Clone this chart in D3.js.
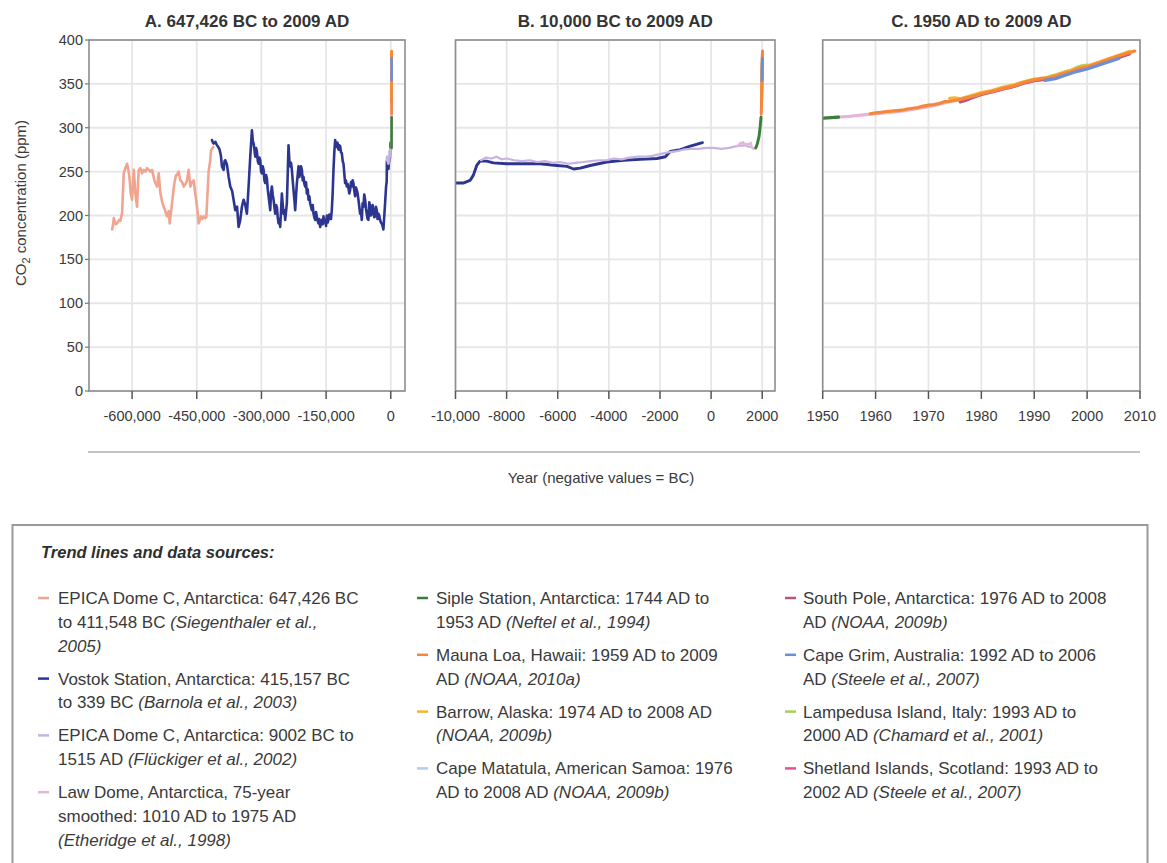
<!DOCTYPE html>
<html>
<head>
<meta charset="utf-8">
<script src="https://cdn.jsdelivr.net/npm/d3@7"></script>
<style>
  body { margin: 0; background: #fff; }
  svg { display: block; font-family: "Liberation Sans", Arial, sans-serif; }
</style>
</head>
<body>
<svg width="1167" height="863"></svg>
<script>
// ---- data (year, ppm) ----
const epicaOld = [
  [-646400,184],[-644000,190],[-642500,197],[-638000,190],[-634800,191],[-630000,195],[-627100,194],
  [-623200,203],[-619400,248],[-615000,255],[-611700,259],[-608000,250],[-605500,240],[-603000,225],
  [-600100,218],[-598000,235],[-596200,252],[-592400,225],[-588500,210],[-586000,240],[-584600,252],
  [-580800,254],[-577000,248],[-573000,252],[-569000,250],[-565300,254],[-561000,252],[-557600,250],
  [-553700,252],[-548300,240],[-545000,236],[-542200,233],[-538300,248],[-534400,225],[-530000,215],
  [-526700,210],[-523000,205],[-519000,199],[-515000,205],[-512800,191],[-507400,214],[-502000,237],
  [-498000,246],[-495800,246],[-492000,250],[-488100,240],[-484000,238],[-480400,233],[-476000,236],
  [-472700,240],[-468800,252],[-465000,233],[-461000,238],[-457200,240],[-453400,225],[-449500,210],
  [-445600,191],[-442000,196],[-440200,199],[-437000,196],[-434100,199],[-430000,197],[-427900,198],
  [-422500,250],[-419000,262],[-417100,274],[-411500,278]
];

const vostok = [
  [-414750,286],[-412500,283],[-410900,282],[-407000,284],[-403200,280],[-400000,278],[-397000,275],
  [-394000,268],[-391600,256],[-387700,252],[-385500,262],[-383900,263],[-380000,258],[-376100,244],
  [-372300,233],[-368000,228],[-364600,218],[-360700,206],[-356500,210],[-353000,187],[-349100,195],
  [-345300,210],[-341400,218],[-337500,212],[-333700,202],[-329800,233],[-325950,267],[-322100,297],
  [-320000,285],[-318200,282],[-316300,275],[-314400,267],[-312400,277],[-310500,273],[-308500,262],
  [-306600,259],[-304700,266],[-302800,263],[-300800,250],[-298900,248],[-297000,256],[-295000,252],
  [-293100,240],[-291200,237],[-289200,246],[-287300,242],[-285400,230],[-283500,222],[-281500,214],
  [-279600,206],[-277700,226],[-275800,233],[-273800,224],[-271900,218],[-270000,210],[-268000,202],
  [-266000,212],[-264000,209],[-262200,198],[-260300,191],[-258400,196],[-256500,187],[-254500,206],
  [-252600,225],[-250600,212],[-248700,202],[-246800,206],[-244900,195],[-243000,204],[-241000,214],
  [-239000,248],[-237200,280],[-235200,262],[-233300,256],[-231300,260],[-229400,252],[-227500,240],
  [-225600,229],[-223600,218],[-221700,206],[-219800,222],[-217800,237],[-215900,246],[-214000,256],
  [-212000,244],[-210100,248],[-208200,256],[-206200,252],[-204300,240],[-202400,244],[-200400,236],
  [-198500,233],[-196600,238],[-194700,225],[-192700,230],[-190800,218],[-188900,222],[-187000,214],
  [-185000,210],[-183100,206],[-181100,212],[-179200,202],[-177300,198],[-175400,195],[-173400,204],
  [-171500,199],[-169600,194],[-167700,191],[-165700,196],[-163800,187],[-161800,192],[-159900,195],
  [-158000,190],[-156100,199],[-154100,192],[-152200,195],[-150200,188],[-148300,200],[-146400,192],
  [-144500,195],[-142500,201],[-140600,199],[-138700,196],[-136800,206],[-134800,225],[-132900,252],
  [-131000,272],[-129000,286],[-127000,280],[-125200,278],[-123500,283],[-121300,275],[-119500,280],
  [-117400,279],[-115500,272],[-113600,271],[-111500,262],[-109700,259],[-107800,248],[-105900,237],
  [-104000,240],[-102000,233],[-100000,236],[-98100,231],[-96200,225],[-94300,229],[-92300,238],
  [-90400,233],[-88500,240],[-86600,237],[-84600,228],[-82700,222],[-80800,232],[-78800,229],
  [-76900,225],[-75000,218],[-73000,210],[-71100,202],[-69200,206],[-67300,195],[-65300,214],
  [-63400,210],[-61500,224],[-59500,218],[-57600,208],[-55700,202],[-53700,196],[-51800,195],
  [-49900,215],[-48000,210],[-46000,200],[-44100,202],[-42200,212],[-40200,206],[-38300,198],
  [-36400,199],[-34400,210],[-32500,206],[-30600,196],[-28600,202],[-26700,200],[-24800,195],
  [-22800,192],[-20900,191],[-19000,188],[-17100,184],[-13200,214],[-11000,232],
  [-10000,237],[-9700,237],[-9430,240],[-9300,246],[-9170,257],[-9040,262],[-8780,262],[-8520,260],
  [-8000,259],[-7340,259],[-6690,259],[-6030,257],[-5640,256],[-5380,253],[-5120,254],[-4730,257],
  [-4080,261],[-3420,263],[-2770,264],[-2120,265],[-1790,267],[-1600,273],[-1200,275],[-810,279],
  [-339,283]
];

const epicaHolocene = [
  [-9002,263],[-8800,266],[-8600,265],[-8400,267],[-8200,264],[-8000,265],[-7700,263],[-7400,262],
  [-7100,263],[-6800,261],[-6500,262],[-6200,260],[-5900,261],[-5600,259],[-5300,260],[-5000,261],
  [-4700,262],[-4400,263],[-4100,263],[-3800,265],[-3500,264],[-3200,266],[-2900,267],[-2600,267],
  [-2300,268],[-2000,270],[-1700,272],[-1400,273],[-1100,275],[-800,276],[-500,276],[-200,277],
  [100,277],[400,276],[700,277],[1000,279],[1300,280],[1515,278]
];

const lawDome = [
  [1010,279],[1050,280],[1100,281],[1150,283],[1200,282],[1250,284],[1300,281],[1350,282],[1400,280],
  [1450,282],[1500,281],[1550,283],[1600,277],[1650,276],[1700,277],[1750,277],[1800,283],[1850,285],
  [1875,289],[1900,296],[1925,303],[1950,311],[1955,313],[1960,316],[1965,319],[1970,324],[1975,331]
];

const siple = [
  [1744,277],[1760,278],[1780,279],[1800,281],[1820,283],[1840,286],[1860,288],[1880,291],[1900,296],
  [1920,301],[1935,306],[1945,309],[1953,312]
];

const maunaLoa = [
  [1959,316.0],[1960,316.9],[1961,317.6],[1962,318.5],[1963,319.0],[1964,319.6],[1965,320.0],
  [1966,321.4],[1967,322.2],[1968,323.0],[1969,324.6],[1970,325.7],[1971,326.3],[1972,327.5],
  [1973,329.7],[1974,330.2],[1975,331.1],[1976,332.1],[1977,333.8],[1978,335.4],[1979,336.8],
  [1980,338.7],[1981,340.1],[1982,341.4],[1983,343.0],[1984,344.6],[1985,346.0],[1986,347.4],
  [1987,349.2],[1988,351.6],[1989,353.1],[1990,354.4],[1991,355.6],[1992,356.4],[1993,357.1],
  [1994,358.8],[1995,360.8],[1996,362.6],[1997,363.7],[1998,366.7],[1999,368.3],[2000,369.5],
  [2001,371.1],[2002,373.2],[2003,375.8],[2004,377.5],[2005,379.8],[2006,381.9],[2007,383.8],
  [2008,385.6],[2009,387.4]
];

const barrow = [
  [1974,333.5],[1975,334],[1976,333],[1978,336.5],[1980,340],[1982,342.5],[1984,346],[1986,348.5],
  [1988,352.5],[1990,355.5],[1992,357],[1994,359.5],[1996,363.5],[1998,367.5],[2000,370.5],
  [2002,374],[2004,378.5],[2006,382.5],[2008,387]
];

const matatula = [
  [1976,331.5],[1978,335],[1980,338.3],[1982,341],[1984,344.2],[1986,347],[1988,351],
  [1990,354],[1992,356],[1994,358.3],[1996,362],[1998,366],[2000,369],[2002,372.8],
  [2004,377],[2006,381.3],[2008,385]
];

const southPole = [
  [1976,329.5],[1977,331],[1978,333.5],[1980,338],[1982,340.8],[1984,344],[1986,346.8],[1988,350.8],
  [1990,353.6],[1992,355.2],[1994,357.5],[1996,361.3],[1998,365],[2000,368],[2002,372],
  [2004,376],[2006,380],[2008,384]
];

const capeGrim = [
  [1992,354],[1994,356],[1996,360],[1998,364],[2000,367],[2002,371],[2004,375],[2006,379]
];

const lampedusa = [
  [1993,358.5],[1994,360],[1995,362],[1996,364],[1997,365.5],[1998,368.5],[1999,370.5],[2000,371.5]
];

const shetland = [
  [1993,358],[1995,361],[1997,364],[1999,368],[2000,369.5],[2002,374]
];

// ---- titles and ticks ----
const panelTitles = ["A. 647,426 BC to 2009 AD", "B. 10,000 BC to 2009 AD", "C. 1950 AD to 2009 AD"];
const yTicks = [0, 50, 100, 150, 200, 250, 300, 350, 400];
const xTicksA = [-600000, -450000, -300000, -150000, 0];
const xLabelsA = ["-600,000", "-450,000", "-300,000", "-150,000", "0"];
const xTicksB = [-10000, -8000, -6000, -4000, -2000, 0, 2000];
const xLabelsB = ["-10,000", "-8000", "-6000", "-4000", "-2000", "0", "2000"];
const xTicksC = [1950, 1960, 1970, 1980, 1990, 2000, 2010];
const xLabelsC = ["1950", "1960", "1970", "1980", "1990", "2000", "2010"];

// legend text: each entry is a list of lines, each line a list of [text, italic]
const legendCol1 = [
  [[["EPICA Dome C, Antarctica: 647,426 BC", 0]], [["to 411,548 BC ", 0], ["(Siegenthaler et al.,", 1]], [["2005)", 1]]],
  [[["Vostok Station, Antarctica: 415,157 BC", 0]], [["to 339 BC ", 0], ["(Barnola et al., 2003)", 1]]],
  [[["EPICA Dome C, Antarctica: 9002 BC to", 0]], [["1515 AD ", 0], ["(Flückiger et al., 2002)", 1]]],
  [[["Law Dome, Antarctica, 75-year", 0]], [["smoothed: 1010 AD to 1975 AD", 0]], [["(Etheridge et al., 1998)", 1]]]
];
const legendCol2 = [
  [[["Siple Station, Antarctica: 1744 AD to", 0]], [["1953 AD ", 0], ["(Neftel et al., 1994)", 1]]],
  [[["Mauna Loa, Hawaii: 1959 AD to 2009", 0]], [["AD ", 0], ["(NOAA, 2010a)", 1]]],
  [[["Barrow, Alaska: 1974 AD to 2008 AD", 0]], [["(NOAA, 2009b)", 1]]],
  [[["Cape Matatula, American Samoa: 1976", 0]], [["AD to 2008 AD ", 0], ["(NOAA, 2009b)", 1]]]
];
const legendCol3 = [
  [[["South Pole, Antarctica: 1976 AD to 2008", 0]], [["AD ", 0], ["(NOAA, 2009b)", 1]]],
  [[["Cape Grim, Australia: 1992 AD to 2006", 0]], [["AD ", 0], ["(Steele et al., 2007)", 1]]],
  [[["Lampedusa Island, Italy: 1993 AD to", 0]], [["2000 AD ", 0], ["(Chamard et al., 2001)", 1]]],
  [[["Shetland Islands, Scotland: 1993 AD to", 0]], [["2002 AD ", 0], ["(Steele et al., 2007)", 1]]]
];

// ---- styling ----
const colors = {
  epicaOld: "#f1a591", vostok: "#2c3590", epicaHolocene: "#c6b3e2", lawDome: "#e7b5d8",
  siple: "#3b7f3d", maunaLoa: "#f6873a", barrow: "#f9b431", matatula: "#afd0ee",
  southPole: "#b8557f", capeGrim: "#6c8ed8", lampedusa: "#a8cf5c", shetland: "#ec4d92"
};
// relative line weight per series (the ice-core holocene curves are drawn thinner)
const weight = { epicaHolocene: 0.75, lawDome: 0.75 };

// draw order: later ones sit on top
const series = [
  ["epicaOld", epicaOld], ["vostok", vostok], ["epicaHolocene", epicaHolocene], ["lawDome", lawDome],
  ["siple", siple], ["matatula", matatula], ["southPole", southPole], ["shetland", shetland],
  ["lampedusa", lampedusa], ["barrow", barrow], ["maunaLoa", maunaLoa], ["capeGrim", capeGrim]
];
const legendKeys = [
  ["epicaOld", "vostok", "epicaHolocene", "lawDome"],
  ["siple", "maunaLoa", "barrow", "matatula"],
  ["southPole", "capeGrim", "lampedusa", "shetland"]
];

const svg = d3.select("svg");
const textColor = "#3a3a3a";
const plotTop = 40, plotBottom = 391;

const y = d3.scaleLinear().domain([0, 400]).range([plotBottom, plotTop]);

const panels = [
  { x0: 89, x1: 405, domain: [-700000, 33000], ticks: xTicksA, labels: xLabelsA, lw: 2.6 },
  { x0: 455.5, x1: 775, domain: [-10000, 2500], ticks: xTicksB, labels: xLabelsB, lw: 2.9 },
  { x0: 822.7, x1: 1140, domain: [1950, 2010], ticks: xTicksC, labels: xLabelsC, lw: 3.2 }
];

// keep only points in (or just next to) the domain so the paths stay small
function inDomain(data, domain) {
  return data.filter((d, i) => {
    let prev = data[i - 1], next = data[i + 1];
    if (d[0] >= domain[0] && d[0] <= domain[1]) return true;
    if (next && d[0] < domain[0] && next[0] >= domain[0]) return true;
    if (prev && d[0] > domain[1] && prev[0] <= domain[1]) return true;
    return false;
  });
}

panels.forEach((p, i) => {
  const x = d3.scaleLinear().domain(p.domain).range([p.x0, p.x1]);
  const g = svg.append("g");

  // grid
  g.selectAll(".hgrid").data(yTicks).enter().append("line")
    .attr("x1", p.x0).attr("x2", p.x1)
    .attr("y1", d => y(d)).attr("y2", d => y(d))
    .attr("stroke", "#e6e6e6").attr("stroke-width", 1.8);
  g.selectAll(".vgrid").data(p.ticks).enter().append("line")
    .attr("x1", d => x(d)).attr("x2", d => x(d))
    .attr("y1", plotTop).attr("y2", plotBottom)
    .attr("stroke", "#e6e6e6").attr("stroke-width", 1.8);

  // clip and lines
  const clipId = "clip" + i;
  svg.append("clipPath").attr("id", clipId).append("rect")
    .attr("x", p.x0).attr("y", plotTop).attr("width", p.x1 - p.x0).attr("height", plotBottom - plotTop);

  const line = d3.line().x(d => x(d[0])).y(d => y(d[1]));
  const lines = g.append("g").attr("clip-path", `url(#${clipId})`);
  series.forEach(([key, data]) => {
    const pts = inDomain(data, p.domain);
    if (pts.length < 2) return;
    lines.append("path")
      .attr("d", line(pts))
      .attr("fill", "none")
      .attr("stroke", colors[key])
      .attr("stroke-width", p.lw * (i === 1 && weight[key] ? weight[key] : 1))
      .attr("stroke-linejoin", "round")
      .attr("stroke-linecap", "round");
  });

  // frame
  g.append("rect")
    .attr("x", p.x0).attr("y", plotTop)
    .attr("width", p.x1 - p.x0).attr("height", plotBottom - plotTop)
    .attr("fill", "none").attr("stroke", "#8e8e8e").attr("stroke-width", 1.6);

  // x ticks + labels
  g.selectAll(".xtick").data(p.ticks).enter().append("line")
    .attr("x1", d => x(d)).attr("x2", d => x(d))
    .attr("y1", plotBottom).attr("y2", plotBottom + 8)
    .attr("stroke", "#555").attr("stroke-width", 1.5);
  g.selectAll(".xlab").data(p.ticks).enter().append("text")
    .attr("x", d => x(d)).attr("y", 421)
    .attr("text-anchor", "middle")
    .attr("font-size", 14.5).attr("fill", textColor)
    .text((d, j) => p.labels[j]);

  // title
  g.append("text")
    .attr("x", (p.x0 + p.x1) / 2).attr("y", 27)
    .attr("text-anchor", "middle")
    .attr("font-size", 17).attr("font-weight", "bold").attr("fill", "#333")
    .text(panelTitles[i]);

  // y axis on the first panel only
  if (i === 0) {
    g.selectAll(".ytick").data(yTicks).enter().append("line")
      .attr("x1", p.x0 - 4).attr("x2", p.x0)
      .attr("y1", d => y(d)).attr("y2", d => y(d))
      .attr("stroke", "#777").attr("stroke-width", 1.2);
    g.selectAll(".ylab").data(yTicks).enter().append("text")
      .attr("x", 83).attr("y", d => y(d) + 5)
      .attr("text-anchor", "end")
      .attr("font-size", 14.5).attr("fill", textColor)
      .text(d => d);
  }
});

// y axis title with subscript
const yTitle = svg.append("text")
  .attr("transform", "translate(26,203) rotate(-90)")
  .attr("text-anchor", "middle")
  .attr("font-size", 15).attr("fill", textColor);
yTitle.append("tspan").text("CO");
yTitle.append("tspan").attr("dy", 4).attr("font-size", 11).text("2");
yTitle.append("tspan").attr("dy", -4).text(" concentration (ppm)");

// separator and x title
svg.append("line")
  .attr("x1", 88).attr("x2", 1140).attr("y1", 452).attr("y2", 452)
  .attr("stroke", "#c4c4c4").attr("stroke-width", 2);
svg.append("text")
  .attr("x", 601).attr("y", 483)
  .attr("text-anchor", "middle")
  .attr("font-size", 15).attr("fill", textColor)
  .text("Year (negative values = BC)");

// legend box
svg.append("rect")
  .attr("x", 12.5).attr("y", 525).attr("width", 1135).attr("height", 360)
  .attr("fill", "none").attr("stroke", "#9a9a9a").attr("stroke-width", 2);
svg.append("text")
  .attr("x", 41).attr("y", 558)
  .attr("font-size", 16.5).attr("font-weight", "bold").attr("font-style", "italic")
  .attr("fill", "#2e2e2e")
  .text("Trend lines and data sources:");

const legendCols = [
  { entries: legendCol1, dashX: 38, textX: 58 },
  { entries: legendCol2, dashX: 417, textX: 436 },
  { entries: legendCol3, dashX: 785, textX: 803 }
];
const lineH = 23.8, entryGap = 9.2;

legendCols.forEach((col, c) => {
  let baseline = 604;
  col.entries.forEach((entry, e) => {
    svg.append("line")
      .attr("x1", col.dashX).attr("x2", col.dashX + 11)
      .attr("y1", baseline - 6).attr("y2", baseline - 6)
      .attr("stroke", colors[legendKeys[c][e]]).attr("stroke-width", 2.5);
    entry.forEach((segs, l) => {
      const t = svg.append("text")
        .attr("x", col.textX).attr("y", baseline + l * lineH)
        .attr("font-size", 17).attr("fill", textColor);
      segs.forEach(([s, it]) => {
        t.append("tspan").attr("font-style", it ? "italic" : "normal").text(s);
      });
    });
    baseline += entry.length * lineH + entryGap;
  });
});
</script>
</body>
</html>
